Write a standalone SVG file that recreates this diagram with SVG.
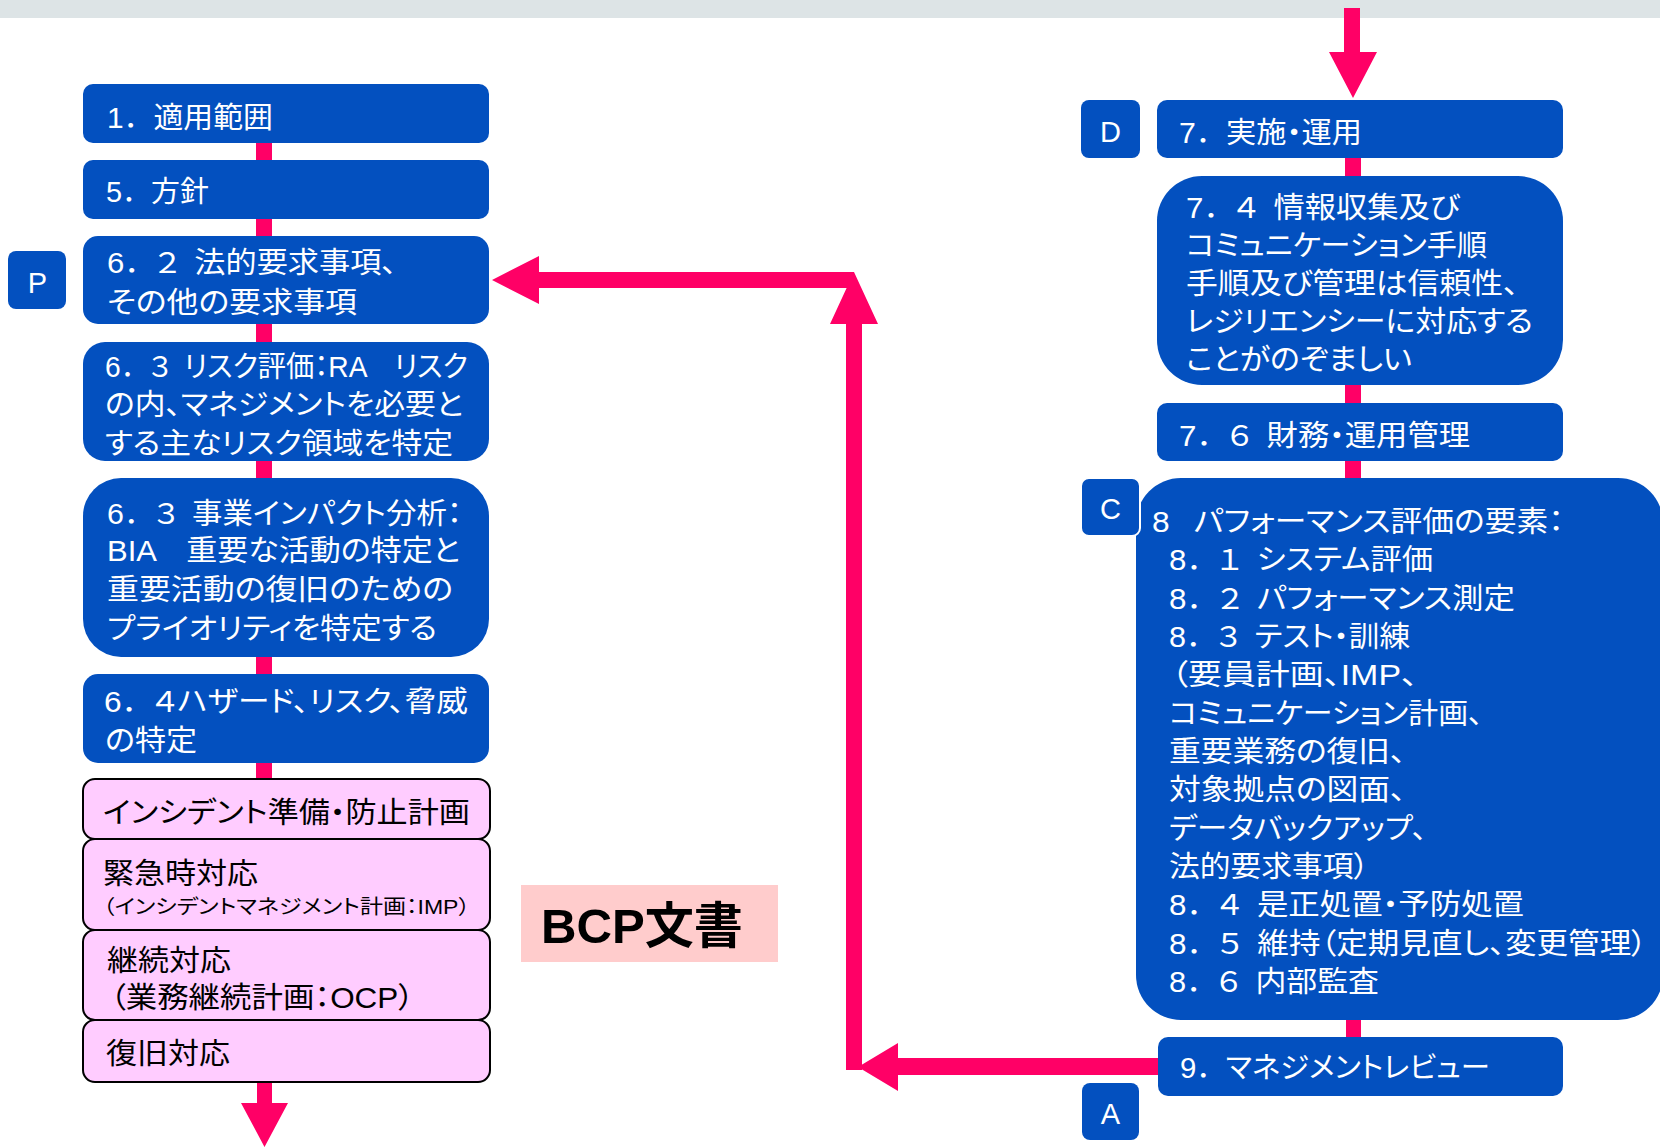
<svg xmlns="http://www.w3.org/2000/svg" width="1660" height="1148" viewBox="0 0 1660 1148">
<style>
.b{fill:#0350bf;}
.pk{fill:#ffccff;stroke:#000;stroke-width:2;}
.t{font-family:"Liberation Sans","Noto Sans CJK JP",sans-serif;font-size:29px;fill:#fff;font-feature-settings:"palt";}
.fw{font-feature-settings:normal;}
.sp{font-size:14px;}
.sp2{font-size:22px;}
.k{fill:#000;}
.lb{font-family:"Liberation Sans","Noto Sans CJK JP",sans-serif;font-size:29px;fill:#fff;text-anchor:middle;}
.c{fill:#ff0066;}
</style>
<rect x="0" y="0" width="1660" height="18" fill="#dde4e6"/>

<g id="connectors">
  <rect class="c" x="256" y="143" width="16" height="17"/>
  <rect class="c" x="256" y="219" width="16" height="17"/>
  <rect class="c" x="256" y="324" width="16" height="18"/>
  <rect class="c" x="256" y="461" width="16" height="17"/>
  <rect class="c" x="256" y="657" width="16" height="17"/>
  <rect class="c" x="256" y="763" width="16" height="16"/>
  <polygon class="c" points="257,1082 272,1082 272,1103 288,1103 264.5,1147 241,1103 257,1103"/>
  <polygon class="c" points="1344,8 1360,8 1360,52 1377,52 1353,98 1329,52 1344,52"/>
  <rect class="c" x="1345" y="158" width="16" height="18"/>
  <rect class="c" x="1345" y="385" width="16" height="18"/>
  <rect class="c" x="1345" y="461" width="16" height="17"/>
  <rect class="c" x="1346" y="1020" width="15" height="17"/>
  <polygon class="c" points="1158,1058 1158,1075 898,1075 898,1091 858,1067 898,1043 898,1058"/>
  <polygon class="c" points="846,1070 846,324 830,324 854,272 878,324 862,324 862,1070"/>
  <polygon class="c" points="854,272 854,288 539,288 539,304 492,280 539,256 539,272"/>
</g>

<g id="label-P"><rect class="b" x="8" y="251" width="58" height="58" rx="8"/><text class="lb" x="37.5" y="293">P</text></g>

<g id="n-scope"><rect class="b" x="83" y="84" width="406" height="59" rx="10"/>
<text class="t" x="107" y="128" textLength="166" lengthAdjust="spacingAndGlyphs">1<tspan class="fw">．</tspan>適用範囲</text></g>

<g id="n-policy"><rect class="b" x="83" y="160" width="406" height="59" rx="10"/>
<text class="t" x="106" y="202" textLength="103" lengthAdjust="spacingAndGlyphs">5<tspan class="fw">．</tspan>方針</text></g>

<g id="n-legal"><rect class="b" x="83" y="236" width="406" height="88" rx="15"/>
<text class="t" x="107" y="273" textLength="290" lengthAdjust="spacingAndGlyphs">6<tspan class="fw">．</tspan>２<tspan class="sp">　</tspan>法的要求事項、</text>
<text class="t" x="107" y="313" textLength="250" lengthAdjust="spacingAndGlyphs">その他の要求事項</text></g>

<g id="n-ra"><rect class="b" x="83" y="342" width="406" height="119" rx="22"/>
<text class="t" x="105" y="377" textLength="363" lengthAdjust="spacingAndGlyphs">6<tspan class="fw">．</tspan>３<tspan class="sp">　</tspan>リスク評価：RA　リスク</text>
<text class="t" x="105" y="415" textLength="358" lengthAdjust="spacingAndGlyphs">の内、マネジメントを必要と</text>
<text class="t" x="105" y="454" textLength="348" lengthAdjust="spacingAndGlyphs">する主なリスク領域を特定</text></g>

<g id="n-bia"><rect class="b" x="83" y="478" width="406" height="179" rx="38"/>
<text class="t" x="107" y="524" textLength="355" lengthAdjust="spacingAndGlyphs">6<tspan class="fw">．</tspan>３<tspan class="sp">　</tspan>事業インパクト分析：</text>
<text class="t" x="107" y="561" textLength="353" lengthAdjust="spacingAndGlyphs">BIA　重要な活動の特定と</text>
<text class="t" x="107" y="600" textLength="346" lengthAdjust="spacingAndGlyphs">重要活動の復旧のための</text>
<text class="t" x="107" y="639" textLength="330" lengthAdjust="spacingAndGlyphs">プライオリティを特定する</text></g>

<g id="n-hazard"><rect class="b" x="83" y="674" width="406" height="89" rx="15"/>
<text class="t" x="104" y="712" textLength="364" lengthAdjust="spacingAndGlyphs">6<tspan class="fw">．</tspan>４ハザード、リスク、脅威</text>
<text class="t" x="105" y="751" textLength="92" lengthAdjust="spacingAndGlyphs">の特定</text></g>

<g id="n-prevent"><rect class="pk" x="83" y="779" width="407" height="60" rx="12"/>
<text class="t k" x="103" y="823" textLength="367" lengthAdjust="spacingAndGlyphs">インシデント準備・防止計画</text></g>

<g id="n-emergency"><rect class="pk" x="83" y="839" width="407" height="91" rx="12"/>
<text class="t k" x="103" y="884" textLength="155" lengthAdjust="spacingAndGlyphs">緊急時対応</text>
<text class="t k" x="103" y="914" style="font-size:20px" textLength="367" lengthAdjust="spacingAndGlyphs">（インシデントマネジメント計画：IMP）</text></g>

<g id="n-continuity"><rect class="pk" x="83" y="930" width="407" height="90" rx="12"/>
<text class="t k" x="107" y="971" textLength="124" lengthAdjust="spacingAndGlyphs">継続対応</text>
<text class="t k" x="110" y="1008" textLength="304" lengthAdjust="spacingAndGlyphs">（業務継続計画：OCP）</text></g>

<g id="n-recovery"><rect class="pk" x="83" y="1020" width="407" height="62" rx="12"/>
<text class="t k" x="106" y="1064" textLength="124" lengthAdjust="spacingAndGlyphs">復旧対応</text></g>

<g id="n-bcp"><rect x="521" y="885" width="257" height="77" fill="#ffcccc"/>
<text x="541" y="943" style="font-family:'Liberation Sans','Noto Sans CJK JP',sans-serif;font-size:49px;font-weight:bold;fill:#000" textLength="202" lengthAdjust="spacingAndGlyphs">BCP文書</text></g>

<g id="label-D"><rect class="b" x="1081" y="100" width="59" height="58" rx="8"/><text class="lb" x="1110.5" y="142">D</text></g>

<g id="n-operation"><rect class="b" x="1157" y="100" width="406" height="58" rx="10"/>
<text class="t" x="1179" y="143" textLength="183" lengthAdjust="spacingAndGlyphs">7<tspan class="fw">．</tspan>実施・運用</text></g>

<g id="n-comm"><rect class="b" x="1157" y="176" width="406" height="209" rx="45"/>
<text class="t" x="1186" y="218" textLength="274" lengthAdjust="spacingAndGlyphs">7<tspan class="fw">．</tspan>４<tspan class="sp">　</tspan>情報収集及び</text>
<text class="t" x="1186" y="256" textLength="301" lengthAdjust="spacingAndGlyphs">コミュニケーション手順</text>
<text class="t" x="1186" y="294" textLength="333" lengthAdjust="spacingAndGlyphs">手順及び管理は信頼性、</text>
<text class="t" x="1186" y="332" textLength="347" lengthAdjust="spacingAndGlyphs">レジリエンシーに対応する</text>
<text class="t" x="1186" y="370" textLength="226" lengthAdjust="spacingAndGlyphs">ことがのぞましい</text></g>

<g id="n-finance"><rect class="b" x="1157" y="403" width="406" height="58" rx="10"/>
<text class="t" x="1179" y="446" textLength="291" lengthAdjust="spacingAndGlyphs">7<tspan class="fw">．</tspan>６<tspan class="sp">　</tspan>財務・運用管理</text></g>

<g id="n-eval"><rect class="b" x="1136" y="478" width="527" height="542" rx="45"/>
<text class="t" x="1152" y="532" textLength="412" lengthAdjust="spacingAndGlyphs">8<tspan class="sp2">　</tspan>パフォーマンス評価の要素：</text>
<text class="t" x="1169" y="570" textLength="264" lengthAdjust="spacingAndGlyphs">8<tspan class="fw">．</tspan>１<tspan class="sp">　</tspan>システム評価</text>
<text class="t" x="1169" y="609" textLength="346" lengthAdjust="spacingAndGlyphs">8<tspan class="fw">．</tspan>２<tspan class="sp">　</tspan>パフォーマンス測定</text>
<text class="t" x="1169" y="647" textLength="241" lengthAdjust="spacingAndGlyphs">8<tspan class="fw">．</tspan>３<tspan class="sp">　</tspan>テスト・訓練</text>
<text class="t" x="1171" y="685" textLength="247" lengthAdjust="spacingAndGlyphs">（要員計画、IMP、</text>
<text class="t" x="1169" y="724" textLength="314" lengthAdjust="spacingAndGlyphs">コミュニケーション計画、</text>
<text class="t" x="1169" y="762" textLength="237" lengthAdjust="spacingAndGlyphs">重要業務の復旧、</text>
<text class="t" x="1169" y="800" textLength="237" lengthAdjust="spacingAndGlyphs">対象拠点の図面、</text>
<text class="t" x="1169" y="839" textLength="258" lengthAdjust="spacingAndGlyphs">データバックアップ、</text>
<text class="t" x="1169" y="877" textLength="200" lengthAdjust="spacingAndGlyphs">法的要求事項）</text>
<text class="t" x="1169" y="915" textLength="355" lengthAdjust="spacingAndGlyphs">8<tspan class="fw">．</tspan>４<tspan class="sp">　</tspan>是正処置・予防処置</text>
<text class="t" x="1169" y="954" textLength="478" lengthAdjust="spacingAndGlyphs">8<tspan class="fw">．</tspan>５<tspan class="sp">　</tspan>維持（定期見直し、変更管理）</text>
<text class="t" x="1169" y="992" textLength="210" lengthAdjust="spacingAndGlyphs">8<tspan class="fw">．</tspan>６<tspan class="sp">　</tspan>内部監査</text></g>

<g id="label-C"><rect class="b" x="1081" y="478" width="59" height="58" rx="8" stroke="#fff" stroke-width="2"/><text class="lb" x="1110.5" y="519">C</text></g>

<g id="n-review"><rect class="b" x="1158" y="1037" width="405" height="59" rx="10"/>
<text class="t" x="1180" y="1078" textLength="310" lengthAdjust="spacingAndGlyphs">9<tspan class="fw">．</tspan>マネジメントレビュー</text></g>

<g id="label-A"><rect class="b" x="1082" y="1083" width="57" height="57" rx="8"/><text class="lb" x="1110.5" y="1124">A</text></g>
</svg>
